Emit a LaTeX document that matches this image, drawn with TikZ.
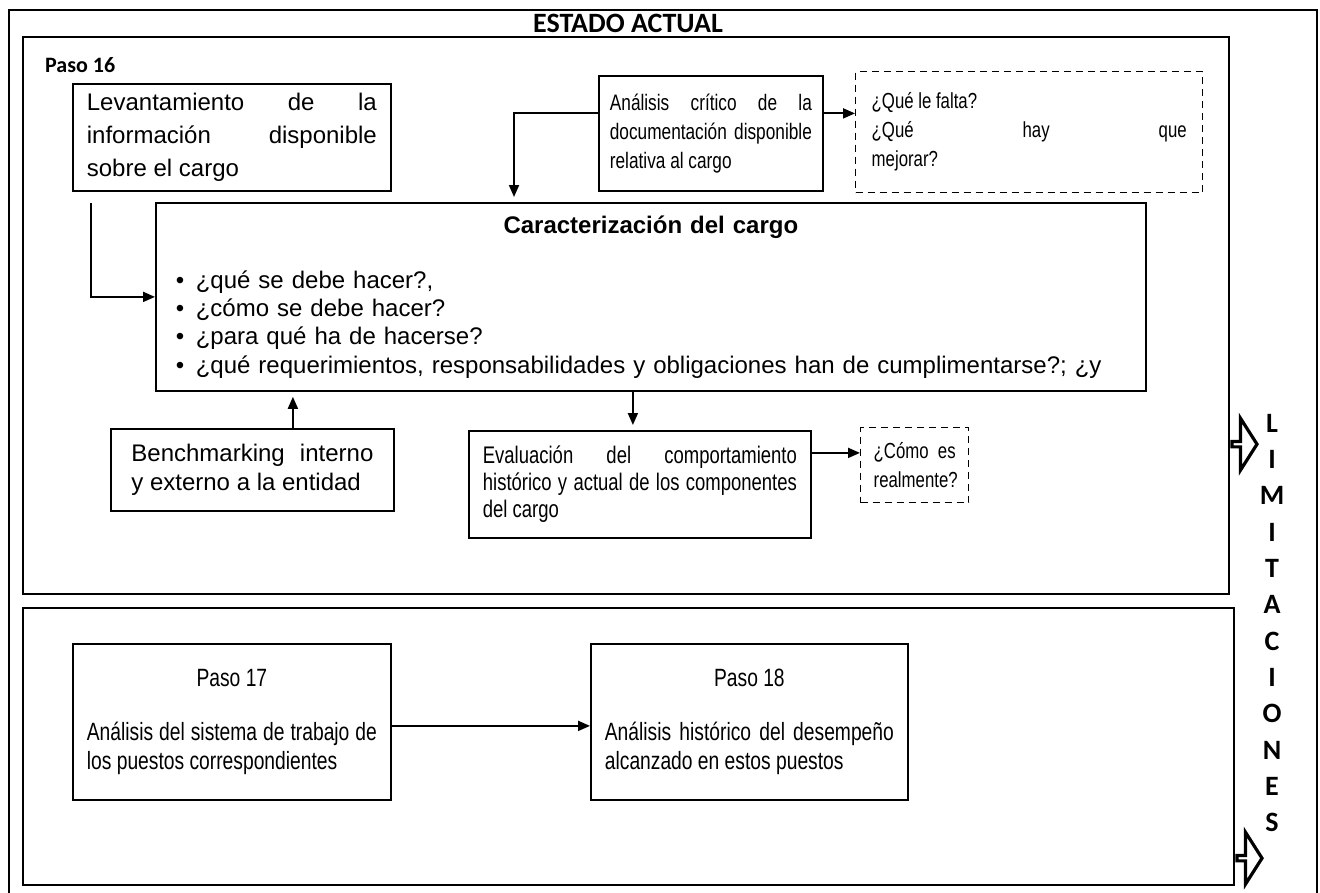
\documentclass[tikz,border=0pt]{standalone}
\usepackage{fontspec}
\setmainfont{Liberation Sans}
\newfontfamily\narfont{Liberation Sans}[FakeStretch=0.77]
\newfontfamily\calib{Carlito}
\usetikzlibrary{arrows.meta,shapes.arrows,calc}
\newcommand\bigbody{\fontsize{24}{33}\selectfont}
\newcommand\carbody{\fontsize{24}{28.3}\selectfont}
\newcommand\narbody{\narfont\fontsize{25}{29}\selectfont}
\newcommand\evalbody{\narfont\fontsize{24}{27}\selectfont}
\newcommand\anabody{\narfont\fontsize{22.4}{29}\selectfont}
\newcommand\smallbody{\narfont\fontsize{21.8}{29}\selectfont}
\begin{document}
\begin{tikzpicture}[x=1pt,y=-1pt,
  frame/.style={draw, line width=2.4pt, inner sep=0pt, anchor=north west},
  box/.style={draw, line width=1.8pt, inner sep=0pt, anchor=north west, align=justify},
  dbox/.style={box, dash pattern=on 7pt off 5pt, line width=1.4pt},
  arr/.style={line width=1.9pt, -{Triangle[length=12pt,width=10pt]}},
  bigarrow/.style={single arrow, draw, line width=3.2pt, fill=white, minimum width=52pt,
    minimum height=25pt, single arrow head extend=14pt, single arrow tip angle=115,
    inner sep=0pt, anchor=tail},
  hdr/.style={font=\calib\bfseries\fontsize{28}{32}\selectfont, inner sep=0pt}
]
\useasboundingbox (0,0) rectangle (1320,892);
% outer frame (its lower edge lies below the picture)
\draw[line width=2pt] (9,900) -- (9,10) -- (1317,10) -- (1317,900);
\node[hdr] (title) at (628,23) {ESTADO ACTUAL};

% upper frame
\node[frame, minimum width=1206pt, minimum height=557pt] (top) at (22,36) {};
\node[font=\calib\bfseries\fontsize{22}{26}\selectfont, anchor=west, inner sep=0pt] (p16) at (45,65) {Paso 16};

\node[box, font=\bigbody, minimum width=318pt, minimum height=107pt, text width=290pt] (lev) at (72,83)
  {Levantamiento de la\linebreak información disponible\linebreak sobre el cargo};
\node[box, font=\anabody, minimum width=224pt, minimum height=115pt, text width=202pt] (ana) at (598,75)
  {Análisis crítico de la\linebreak documentación disponible\linebreak relativa al cargo};
\node[dbox, font=\smallbody, minimum width=347pt, minimum height=121pt, text width=315pt] (d1) at (855,71)
  {¿Qué le falta?\newline ¿Qué hay que\linebreak mejorar?};

\node[box, font=\carbody, minimum width=990pt, minimum height=188pt, text width=950pt, align=left] (car) at (155,202)
  {{\centering\bfseries Caracterización del cargo\par}\vspace{26.7pt}%
   \textbullet\hspace{11.5pt}¿qué se debe hacer?,\\
   \textbullet\hspace{11.5pt}¿cómo se debe hacer?\\
   \textbullet\hspace{11.5pt}¿para qué ha de hacerse?\\
   \textbullet\hspace{11.5pt}¿qué requerimientos, responsabilidades y obligaciones han de cumplimentarse?; ¿y};

\node[box, font=\carbody, minimum width=283pt, minimum height=82pt, text width=242pt] (bench) at (110,428)
  {Benchmarking interno\linebreak y externo a la entidad};
\node[box, font=\evalbody, minimum width=342pt, minimum height=107pt, text width=314pt] (eval) at (468,430)
  {Evaluación del comportamiento\linebreak histórico y actual de los componentes\linebreak del cargo};
\node[dbox, minimum width=108pt, minimum height=75pt, text width=82pt, font=\smallbody] (d2) at (860,427)
  {¿Cómo es\linebreak realmente?};

% lower frame
\node[frame, minimum width=1211pt, minimum height=277pt] (bot) at (22,607) {};
\node[box, font=\narbody, minimum width=318pt, minimum height=156pt, text width=290pt] (p17) at (72,643)
  {{\centering Paso 17\par}\vspace{25pt}Análisis del sistema de trabajo de\linebreak los puestos correspondientes};
\node[box, font=\narbody, minimum width=317pt, minimum height=156pt, text width=289pt] (p18) at (590,643)
  {{\centering Paso 18\par}\vspace{25pt}Análisis histórico del desempeño\linebreak alcanzado en estos puestos};

% limitaciones
\node[font=\calib\bfseries\fontsize{28}{36.3}\selectfont, align=center, anchor=north, inner sep=0pt] (lim) at (1272,414)
  {L\\I\\M\\I\\T\\A\\C\\I\\O\\N\\E\\S};
\node[bigarrow] (ba1) at ([yshift=-128.5pt]top.east) {};
\node[bigarrow] (ba2) at ([yshift=-111.5pt]bot.east) {};

% connectors
\coordinate (a1) at ([yshift=20pt]ana.west);
\coordinate (bendA) at (514,0);
\draw[arr, shorten >=5pt] (a1) -| (car.north -| bendA);
\draw[arr] (a1 -| ana.east) -- (a1 -| d1.west);
\coordinate (levOut) at (91,203);
\draw[arr] (levOut) |- (car.west);
\coordinate (bx) at ([xshift=40.5pt]bench.north);
\draw[arr, shorten >=5pt] (bx) -- (bx |- car.south);
\coordinate (ex) at ([xshift=-7pt]eval.north);
\draw[arr, shorten >=5pt] (ex |- car.south) -- (ex);
\coordinate (ey) at ([yshift=31.5pt]eval.east);
\draw[arr] (ey) -- (ey -| d2.west);
\draw[arr] ([yshift=-4pt]p17.east) -- ([yshift=-4pt]p18.west);
\end{tikzpicture}
\end{document}
